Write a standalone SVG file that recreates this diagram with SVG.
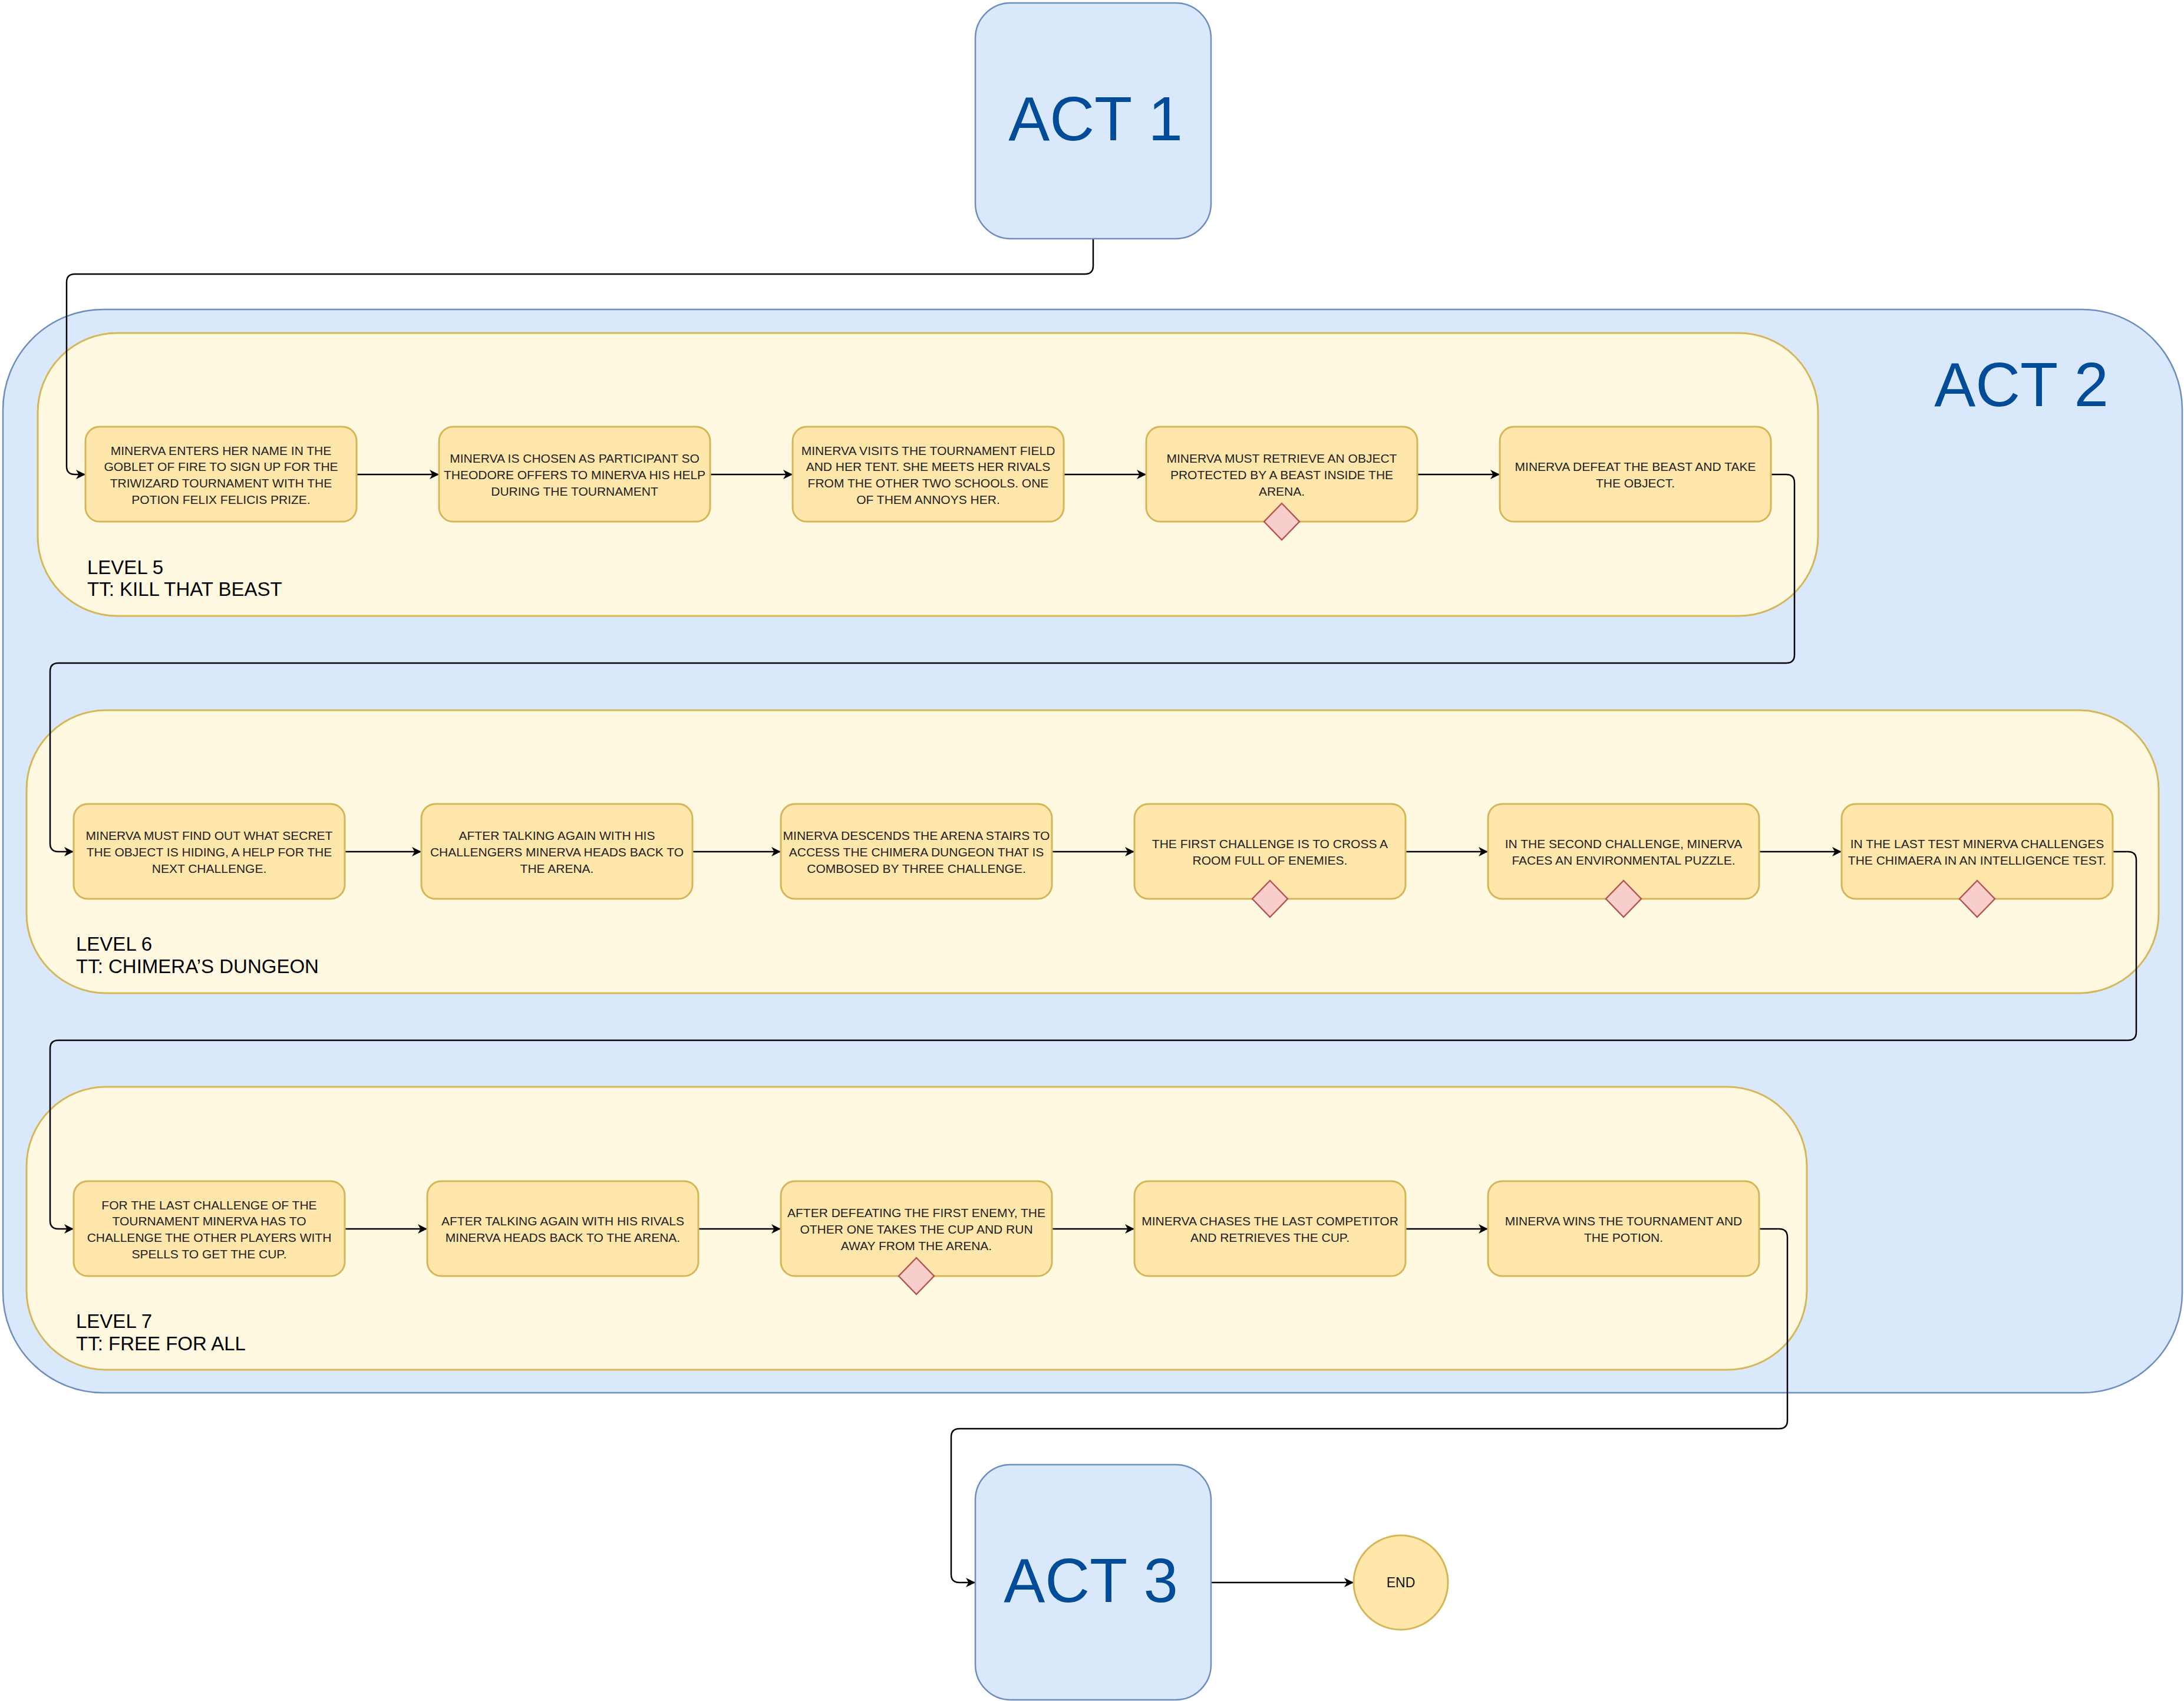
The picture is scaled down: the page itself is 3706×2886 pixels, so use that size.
<svg xmlns="http://www.w3.org/2000/svg" width="3706" height="2886" viewBox="0 0 3706 2886">
<defs>
<style>
.act{fill:#dae8fc;stroke:#6c8ebf;stroke-width:2.5}
.lvl{fill:#fff9e2;stroke:#d6b656;stroke-width:3}
.node{fill:#ffe6ab;stroke:#d6b656;stroke-width:3}
.dia{fill:#f8cecc;stroke:#b85450;stroke-width:2.5}
.end{fill:#ffe6ab;stroke:#d6b656;stroke-width:3}
.conn{fill:none;stroke:#000;stroke-width:2.5;marker-end:url(#arr)}
.big{font-family:"Liberation Sans",Arial,sans-serif;font-size:105px;fill:#004c99;text-anchor:middle}
.lab{font-family:"Liberation Sans",Arial,sans-serif;font-size:33px;fill:#000}
.t{font-family:"Liberation Sans",Arial,sans-serif;font-size:21px;fill:#222;text-anchor:middle}
.et{font-family:"Liberation Sans",Arial,sans-serif;font-size:23px;fill:#111;text-anchor:middle}
</style>
<marker id="arr" markerUnits="userSpaceOnUse" markerWidth="17" markerHeight="17" refX="16" refY="8" orient="auto" viewBox="0 0 17 17">
<path d="M0,0 L16,8 L0,16 L4.5,8 Z" fill="#000"/>
</marker>
</defs>

<g id="act2">
<rect class="act" x="5" y="525" width="3698" height="1838" rx="170" ry="170"/>
<text class="big" x="3430" y="689">ACT 2</text>
</g>

<g id="level5">
<rect class="lvl" x="64" y="565" width="3021" height="480" rx="135" ry="135"/>
<text class="lab" x="148"><tspan x="148" y="974">LEVEL 5</tspan><tspan x="148" y="1011">TT: KILL THAT BEAST</tspan></text>
</g>
<g id="level6">
<rect class="lvl" x="45" y="1205" width="3618" height="480" rx="135" ry="135"/>
<text class="lab" x="129"><tspan x="129" y="1613">LEVEL 6</tspan><tspan x="129" y="1651">TT: CHIMERA’S DUNGEON</tspan></text>
</g>
<g id="level7">
<rect class="lvl" x="45" y="1844" width="3021" height="480" rx="135" ry="135"/>
<text class="lab" x="129"><tspan x="129" y="2253">LEVEL 7</tspan><tspan x="129" y="2291">TT: FREE FOR ALL</tspan></text>
</g>

<g id="connectors">
<path class="conn" d="M1855,405 L1855,451 Q1855,465 1841,465 L127,465 Q113,465 113,479 L113,791 Q113,805 127,805 L145,805"/>
<path class="conn" d="M605,805 L745,805"/>
<path class="conn" d="M1205,805 L1345,805"/>
<path class="conn" d="M1805,805 L1945,805"/>
<path class="conn" d="M2405,805 L2545,805"/>
<path class="conn" d="M3005,805 L3031,805 Q3045,805 3045,819 L3045,1111 Q3045,1125 3031,1125 L99,1125 Q85,1125 85,1139 L85,1431 Q85,1445 99,1445 L125,1445"/>
<path class="conn" d="M585,1445 L715,1445"/>
<path class="conn" d="M1175,1445 L1325,1445"/>
<path class="conn" d="M1785,1445 L1925,1445"/>
<path class="conn" d="M2385,1445 L2525,1445"/>
<path class="conn" d="M2985,1445 L3125,1445"/>
<path class="conn" d="M3585,1445 L3611,1445 Q3625,1445 3625,1459 L3625,1751 Q3625,1765 3611,1765 L99,1765 Q85,1765 85,1779 L85,2071 Q85,2085 99,2085 L125,2085"/>
<path class="conn" d="M585,2085 L725,2085"/>
<path class="conn" d="M1185,2085 L1325,2085"/>
<path class="conn" d="M1785,2085 L1925,2085"/>
<path class="conn" d="M2385,2085 L2525,2085"/>
<path class="conn" d="M2985,2085 L3019,2085 Q3033,2085 3033,2099 L3033,2410 Q3033,2424 3019,2424 L1628,2424 Q1614,2424 1614,2438 L1614,2671 Q1614,2685 1628,2685 L1655,2685"/>
<path class="conn" d="M2055,2685 L2297,2685"/>
</g>

<g id="act1">
<rect class="act" x="1655" y="5" width="400" height="400" rx="60" ry="60"/>
<text class="big" x="1859" y="238">ACT 1</text>
</g>

<g id="n5-1"><rect class="node" x="145" y="724" width="460" height="161" rx="24"/>
<text class="t"><tspan x="375" y="772">MINERVA ENTERS HER NAME IN THE</tspan><tspan x="375" y="799">GOBLET OF FIRE TO SIGN UP FOR THE</tspan><tspan x="375" y="827">TRIWIZARD TOURNAMENT WITH THE</tspan><tspan x="375" y="855">POTION FELIX FELICIS PRIZE.</tspan></text></g>
<g id="n5-2"><rect class="node" x="745" y="724" width="460" height="161" rx="24"/>
<text class="t"><tspan x="975" y="785">MINERVA IS CHOSEN AS PARTICIPANT SO</tspan><tspan x="975" y="813">THEODORE OFFERS TO MINERVA HIS HELP</tspan><tspan x="975" y="841">DURING THE TOURNAMENT</tspan></text></g>
<g id="n5-3"><rect class="node" x="1345" y="724" width="460" height="161" rx="24"/>
<text class="t"><tspan x="1575" y="772">MINERVA VISITS THE TOURNAMENT FIELD</tspan><tspan x="1575" y="799">AND HER TENT. SHE MEETS HER RIVALS</tspan><tspan x="1575" y="827">FROM THE OTHER TWO SCHOOLS. ONE</tspan><tspan x="1575" y="855">OF THEM ANNOYS HER.</tspan></text></g>
<g id="n5-4"><rect class="node" x="1945" y="724" width="460" height="161" rx="24"/>
<text class="t"><tspan x="2175" y="785">MINERVA MUST RETRIEVE AN OBJECT</tspan><tspan x="2175" y="813">PROTECTED BY A BEAST INSIDE THE</tspan><tspan x="2175" y="841">ARENA.</tspan></text>
<polygon class="dia" points="2175,854 2205,885 2175,916 2145,885"/></g>
<g id="n5-5"><rect class="node" x="2545" y="724" width="460" height="161" rx="24"/>
<text class="t"><tspan x="2775" y="799">MINERVA DEFEAT THE BEAST AND TAKE</tspan><tspan x="2775" y="827">THE OBJECT.</tspan></text></g>

<g id="n6-1"><rect class="node" x="125" y="1364" width="460" height="161" rx="24"/>
<text class="t"><tspan x="355" y="1425">MINERVA MUST FIND OUT WHAT SECRET</tspan><tspan x="355" y="1453">THE OBJECT IS HIDING, A HELP FOR THE</tspan><tspan x="355" y="1481">NEXT CHALLENGE.</tspan></text></g>
<g id="n6-2"><rect class="node" x="715" y="1364" width="460" height="161" rx="24"/>
<text class="t"><tspan x="945" y="1425">AFTER TALKING AGAIN WITH HIS</tspan><tspan x="945" y="1453">CHALLENGERS MINERVA HEADS BACK TO</tspan><tspan x="945" y="1481">THE ARENA.</tspan></text></g>
<g id="n6-3"><rect class="node" x="1325" y="1364" width="460" height="161" rx="24"/>
<text class="t"><tspan x="1555" y="1425">MINERVA DESCENDS THE ARENA STAIRS TO</tspan><tspan x="1555" y="1453">ACCESS THE CHIMERA DUNGEON THAT IS</tspan><tspan x="1555" y="1481">COMBOSED BY THREE CHALLENGE.</tspan></text></g>
<g id="n6-4"><rect class="node" x="1925" y="1364" width="460" height="161" rx="24"/>
<text class="t"><tspan x="2155" y="1439">THE FIRST CHALLENGE IS TO CROSS A</tspan><tspan x="2155" y="1467">ROOM FULL OF ENEMIES.</tspan></text>
<polygon class="dia" points="2155,1494 2185,1525 2155,1556 2125,1525"/></g>
<g id="n6-5"><rect class="node" x="2525" y="1364" width="460" height="161" rx="24"/>
<text class="t"><tspan x="2755" y="1439">IN THE SECOND CHALLENGE, MINERVA</tspan><tspan x="2755" y="1467">FACES AN ENVIRONMENTAL PUZZLE.</tspan></text>
<polygon class="dia" points="2755,1494 2785,1525 2755,1556 2725,1525"/></g>
<g id="n6-6"><rect class="node" x="3125" y="1364" width="460" height="161" rx="24"/>
<text class="t"><tspan x="3355" y="1439">IN THE LAST TEST MINERVA CHALLENGES</tspan><tspan x="3355" y="1467">THE CHIMAERA IN AN INTELLIGENCE TEST.</tspan></text>
<polygon class="dia" points="3355,1494 3385,1525 3355,1556 3325,1525"/></g>

<g id="n7-1"><rect class="node" x="125" y="2004" width="460" height="161" rx="24"/>
<text class="t"><tspan x="355" y="2052">FOR THE LAST CHALLENGE OF THE</tspan><tspan x="355" y="2079">TOURNAMENT MINERVA HAS TO</tspan><tspan x="355" y="2107">CHALLENGE THE OTHER PLAYERS WITH</tspan><tspan x="355" y="2135">SPELLS TO GET THE CUP.</tspan></text></g>
<g id="n7-2"><rect class="node" x="725" y="2004" width="460" height="161" rx="24"/>
<text class="t"><tspan x="955" y="2079">AFTER TALKING AGAIN WITH HIS RIVALS</tspan><tspan x="955" y="2107">MINERVA HEADS BACK TO THE ARENA.</tspan></text></g>
<g id="n7-3"><rect class="node" x="1325" y="2004" width="460" height="161" rx="24"/>
<text class="t"><tspan x="1555" y="2065">AFTER DEFEATING THE FIRST ENEMY, THE</tspan><tspan x="1555" y="2093">OTHER ONE TAKES THE CUP AND RUN</tspan><tspan x="1555" y="2121">AWAY FROM THE ARENA.</tspan></text>
<polygon class="dia" points="1555,2134 1585,2165 1555,2196 1525,2165"/></g>
<g id="n7-4"><rect class="node" x="1925" y="2004" width="460" height="161" rx="24"/>
<text class="t"><tspan x="2155" y="2079">MINERVA CHASES THE LAST COMPETITOR</tspan><tspan x="2155" y="2107">AND RETRIEVES THE CUP.</tspan></text></g>
<g id="n7-5"><rect class="node" x="2525" y="2004" width="460" height="161" rx="24"/>
<text class="t"><tspan x="2755" y="2079">MINERVA WINS THE TOURNAMENT AND</tspan><tspan x="2755" y="2107">THE POTION.</tspan></text></g>

<g id="act3">
<rect class="act" x="1655" y="2485" width="400" height="399" rx="60" ry="60"/>
<text class="big" x="1851" y="2718">ACT 3</text>
</g>
<g id="end">
<circle class="end" cx="2377" cy="2685" r="80"/>
<text class="et" x="2377" y="2693">END</text>
</g>
</svg>
